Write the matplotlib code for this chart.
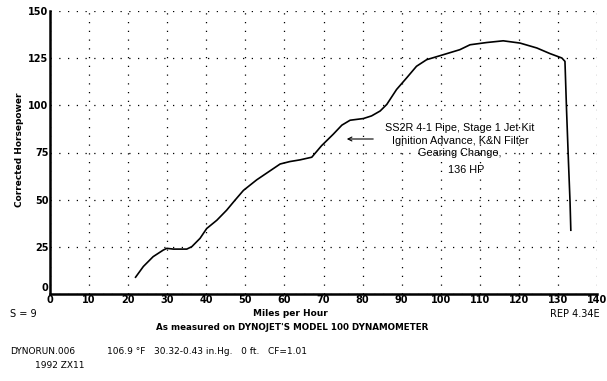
import matplotlib
matplotlib.use("Agg")
import matplotlib.pyplot as plt
import matplotlib.transforms as mtrans
import numpy as np

# dyno run
mph = [21.9, 23.9, 26.4, 29.0, 29.9, 31.6, 35.0, 36.3, 38.4, 40.1, 42.7, 45.2,
       47.3, 49.5, 52.9, 58.9, 61.4, 64.0, 67.0, 69.5, 72.5, 74.7, 76.8, 80.2,
       82.3, 84.5, 86.2, 88.7, 91.3, 93.8, 96.4, 99.8, 104.9, 107.5, 111.8,
       116.0, 120.3, 124.6, 128.0, 131.0, 131.8, 132.2, 132.7, 133.1, 133.3]
hp = [8.9, 14.6, 19.8, 23.3, 24.2, 23.8, 23.8, 25.1, 29.5, 34.7, 39.1, 44.4,
      49.6, 54.9, 60.5, 68.9, 70.2, 71.1, 72.5, 78.6, 84.7, 89.5, 92.1, 93.0,
      94.4, 97.0, 100.5, 108.4, 114.6, 120.7, 124.2, 126.3, 129.5, 132.1, 133.3,
      134.2, 133.0, 130.4, 127.4, 125.1, 123.3, 97.9, 69.8, 48.8, 33.8]

xticks = list(range(0, 141, 10))
yticks = [0, 25, 50, 75, 100, 125, 150]

note_lines = ["SS2R 4-1 Pipe, Stage 1 Jet Kit",
              "Ignition Advance, K&N Filter",
              "Gearing Change,"]
peak_note = "136 HP"

W, H = 607, 381
fig = plt.figure(figsize=(W / 100, H / 100), dpi=100)

def fx(px):
    return px / W

def fy(py):
    return 1 - py / H

ax = fig.add_axes([fx(50), fy(294), fx(597) - fx(50), fy(11) - fy(294)])
ax.plot(mph, hp, color="black", lw=1.2)

ax.set_xlim(0, 140)
ax.set_ylim(0, 150)
ax.set_xticks(xticks)
ax.set_yticks(yticks)
ax.tick_params(length=0, labelsize=7, pad=1)
for lab in ax.get_xticklabels() + ax.get_yticklabels():
    lab.set_fontweight("bold")
ax.grid(True, color="black", linestyle=(0, (1, 6)), linewidth=0.9)
for s in ["top", "right"]:
    ax.spines[s].set_visible(False)
ax.spines["left"].set_linewidth(1.8)
ax.spines["bottom"].set_linewidth(1.8)

# the printout puts the y "0" a bit above the axis line
fig.canvas.draw()
ylab0 = ax.get_yticklabels()[0]
ylab0.set_transform(ylab0.get_transform() +
                    mtrans.ScaledTranslation(0, 7 / 100, fig.dpi_scale_trans))

# annotation
for i, t in enumerate(note_lines):
    fig.text(fx(460), fy(128 + 12.5 * i), t, ha="center", va="center",
             fontsize=7.8, family="Liberation Sans")
fig.text(fx(466), fy(170), peak_note, ha="center", va="center",
         fontsize=7.8, family="Liberation Sans")
fig.add_artist(matplotlib.patches.FancyArrowPatch(
    (fx(376), fy(139)), (fx(344), fy(139)), transform=fig.transFigure,
    arrowstyle="->", mutation_scale=7, lw=0.8, color="black"))

fig.text(fx(20), fy(150), "Corrected Horsepower", rotation=90, ha="center",
         va="center", fontsize=6.5, fontweight="bold")

small = dict(fontsize=6.5, family="DejaVu Sans")
fig.text(fx(10), fy(314), "S = 9", ha="left", va="center", fontsize=7)
fig.text(fx(290), fy(314), "Miles per Hour", ha="center", va="center",
         fontsize=6.5, fontweight="bold")
fig.text(fx(600), fy(314), "REP 4.34E", ha="right", va="center", fontsize=7)
fig.text(fx(292), fy(328), "As measured on DYNOJET'S MODEL 100 DYNAMOMETER",
         ha="center", va="center", fontsize=6.3, fontweight="bold")
fig.text(fx(10), fy(352), "DYNORUN.006", ha="left", va="center", **small)
fig.text(fx(107), fy(352), "106.9 \u00b0F   30.32-0.43 in.Hg.   0 ft.   CF=1.01",
         ha="left", va="center", **small)
fig.text(fx(35), fy(365), "1992 ZX11", ha="left", va="center", **small)

fig.savefig("out.png", dpi=100)
